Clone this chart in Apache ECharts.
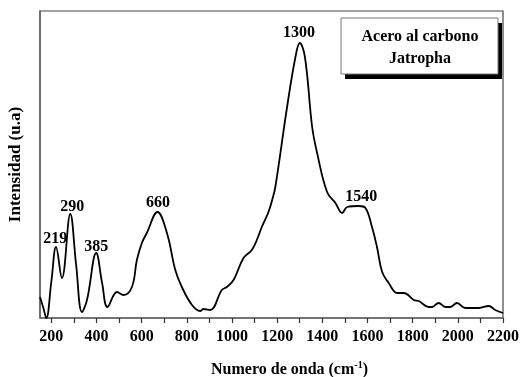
<!DOCTYPE html>
<html>
<head>
<meta charset="utf-8">
<script src="https://cdn.jsdelivr.net/npm/echarts@6/dist/echarts.min.js"></script>
<style>html,body{margin:0;padding:0;background:#fff}#c{width:524px;height:377px}</style>
</head>
<body>
<div id="c"></div>
<script>
// Wavenumber (cm^-1)
const wavenumber = [150,165,178,200,221,247,284,310,336,358,399,425,449,491,520,557,579,601,623,670,712,749,778,823,859,874,904,955,977,1007,1051,1088,1110,1132,1160,1178,1192,1244,1281,1300,1323,1355,1377,1421,1458,1488,1510,1562,1591,1620,1642,1665,1694,1731,1761,1805,1827,1871,1886,1915,1945,1967,1996,2033,2092,2137,2166,2200];
// Intensity (arbitrary units)
const intensity = [21,10,0,36,71,40,104,53,6,18,65,35,11,26,23,31,58,75,85,106,85,48,31,13,7,9,8,28,31,38,60,68,78,91,105,118,131,211,261,275,261,191,165,126,115,105,111,112,110,91,71,46,35,25,25,18,17,11,11,15,11,11,15,10,10,12,8,5];
// Peak annotations
const peakNames = ['219','290','385','660','1300','1540'];
const peakX = [218,293,399,673,1297,1572];
const peakY = [79,111,71,115,285,121];
const xTickValues = [200,300,400,500,600,700,800,900,1000,1100,1200,1300,1400,1500,1600,1700,1800,1900,2000,2100,2200];
const xLabelValues = [200,400,600,800,1000,1200,1400,1600,1800,2000,2200];
const legendLines = ['Acero al carbono','Jatropha'];

const serif = '"Liberation Serif","Times New Roman",serif';
const chart = echarts.init(document.getElementById('c'), null, {renderer:'canvas'});
chart.setOption({
  animation:false,
  backgroundColor:'#fff',
  grid:{left:40,right:21,top:11,bottom:59,outerBoundsMode:'none',containLabel:false,show:true,borderColor:'#444',borderWidth:1.2,backgroundColor:'transparent'},
  xAxis:{
    type:'value',min:150,max:2200,
    axisLine:{show:true,lineStyle:{color:'#666',width:1.5}},
    axisTick:{show:true,inside:false,length:5,customValues:xTickValues,lineStyle:{color:'#333',width:1.2}},
    axisLabel:{customValues:xLabelValues,formatter:v=>String(v),margin:11,fontFamily:serif,fontWeight:'bold',fontSize:16,color:'#000'},
    splitLine:{show:false},
    name:'Numero de onda (cm{sup|-1})',
    nameLocation:'middle',nameGap:42,
    nameTextStyle:{fontFamily:serif,fontWeight:'bold',fontSize:16,color:'#000',padding:[0,0,0,36],
      rich:{sup:{fontFamily:serif,fontWeight:'bold',fontSize:10,color:'#000',verticalAlign:'top',padding:[0,0,10,0]}}}
  },
  yAxis:{
    type:'value',min:0,max:307,
    axisLine:{show:true,lineStyle:{color:'#666',width:1.5}},
    axisTick:{show:false},axisLabel:{show:false},splitLine:{show:false},
    name:'Intensidad (u.a)',nameLocation:'middle',nameGap:16,nameRotate:90,
    nameTextStyle:{fontFamily:serif,fontWeight:'bold',fontSize:17,color:'#000'}
  },
  series:[
    {type:'line',data:wavenumber.map((w,i)=>[w,intensity[i]]),smooth:0.4,showSymbol:false,
     lineStyle:{color:'#000',width:1.8},clip:true,silent:true},
    {type:'scatter',data:peakX.map((x,i)=>({value:[x,peakY[i]],name:peakNames[i]})),symbolSize:0,silent:true,
     itemStyle:{opacity:1},
     label:{show:true,position:'inside',formatter:p=>p.name,fontFamily:serif,fontWeight:'bold',fontSize:16,color:'#000'}}
  ],
  graphic:[
    {type:'rect',x:345,y:23,shape:{width:157,height:56},style:{fill:'#000'},silent:true},
    {type:'rect',x:341,y:18,shape:{width:157,height:56},style:{fill:'#fff',stroke:'#777',lineWidth:1},silent:true},
    {type:'text',x:420,y:37,style:{text:legendLines[0],font:'bold 16px '+serif,fill:'#000',align:'center',verticalAlign:'middle'},silent:true},
    {type:'text',x:420,y:59,style:{text:legendLines[1],font:'bold 16px '+serif,fill:'#000',align:'center',verticalAlign:'middle'},silent:true}
  ]
});
</script>
</body>
</html>
